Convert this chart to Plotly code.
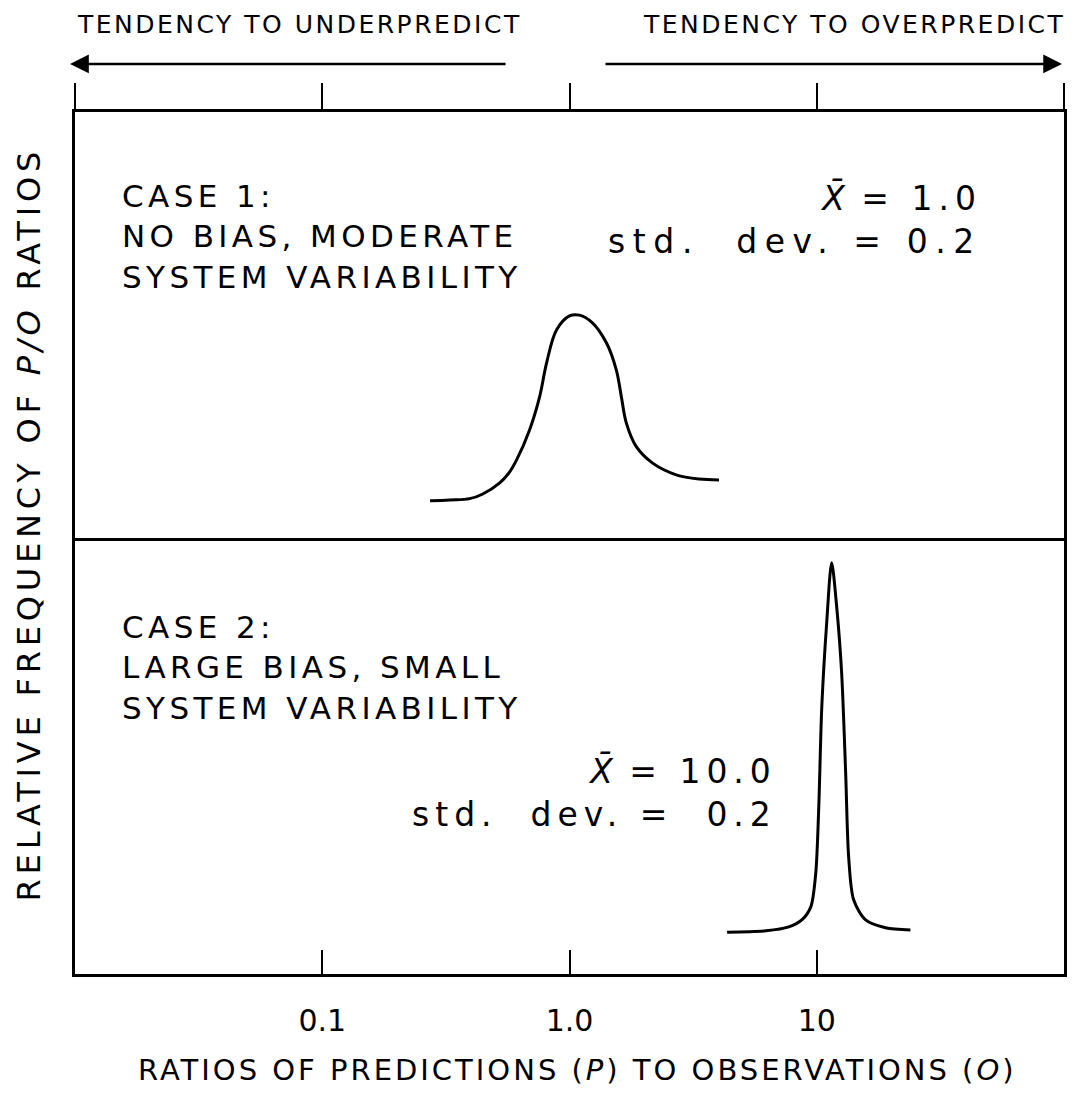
import plotly.graph_objects as go

# Case 1: no bias, moderate system variability
case1_ratio = [0.273, 0.328, 0.395, 0.446, 0.522, 0.573, 0.611, 0.690, 0.757, 0.808, 0.886, 1.0,
               1.097, 1.238, 1.410, 1.547, 1.621, 1.697, 1.863, 2.162, 2.701, 3.344, 4.025]
case1_freq = [0.087, 0.089, 0.092, 0.103, 0.129, 0.155, 0.183, 0.254, 0.331, 0.411, 0.488, 0.521,
              0.523, 0.505, 0.458, 0.394, 0.331, 0.270, 0.214, 0.176, 0.148, 0.138, 0.136]

# Case 2: large bias, small system variability
case2_ratio = [4.34, 6.23, 7.71, 8.70, 9.46, 9.91, 10.19, 10.48, 10.97, 11.49,
               12.04, 12.61, 13.09, 13.46, 14.10, 15.76, 18.97, 23.93]
case2_freq = [0.096, 0.099, 0.108, 0.124, 0.154, 0.232, 0.383, 0.612, 0.805, 0.943,
              0.842, 0.690, 0.461, 0.268, 0.170, 0.124, 0.106, 0.101]

tick_vals = [0.1, 1, 10]
tick_text = ["0.1", "1.0", "10"]
top_tick_vals = [0.01, 0.1, 1, 10, 100]

FONT = "DejaVu Sans"
INK = "black"


def spaced(s, px):
    """Wrap text in a span with extra letter spacing (plotter-style lettering)."""
    return f'<span style="letter-spacing:{px}px">{s}</span>'


fig = go.Figure()
fig.add_trace(go.Scatter(x=case1_ratio, y=case1_freq, xaxis="x2", yaxis="y2",
                         mode="lines", line=dict(color=INK, width=3, shape="spline", smoothing=1.0),
                         hoverinfo="skip"))
fig.add_trace(go.Scatter(x=case2_ratio, y=case2_freq, xaxis="x", yaxis="y",
                         mode="lines", line=dict(color=INK, width=3, shape="spline", smoothing=0.8),
                         hoverinfo="skip"))

axis_common = dict(type="log", range=[-2, 2], showgrid=False, zeroline=False,
                   showline=True, linecolor=INK, linewidth=2.5,
                   tickcolor=INK, tickwidth=2)
yaxis_common = dict(range=[0, 1], showgrid=False, zeroline=False, showline=True,
                    linecolor=INK, linewidth=2.5, mirror=True, showticklabels=False, ticks="")

ann = []


def text(s, x, y, size, xanchor="left", align="left", angle=0):
    ann.append(dict(text=s, x=x, y=y, xref="paper", yref="paper", showarrow=False,
                    xanchor=xanchor, yanchor="middle", align=align, textangle=angle,
                    font=dict(family=FONT, size=size, color=INK)))


text(spaced("TENDENCY TO UNDERPREDICT", 2.5), 0.0, 1.101, 25)
text(spaced("TENDENCY TO OVERPREDICT", 2.5), 1.003, 1.101, 25, xanchor="right", align="right")

case1_lines = ["CASE 1:", "NO BIAS, MODERATE", "SYSTEM VARIABILITY"]
case2_lines = ["CASE 2:", "LARGE BIAS, SMALL", "SYSTEM VARIABILITY"]
text("<br>".join(spaced(l, 4.4) for l in case1_lines), 0.046, 0.855, 31)
text("<br>".join(spaced(l, 4.4) for l in case2_lines), 0.046, 0.355, 31)

stats1 = ("<i>X\u0304</i>" + spaced(" = 1.0", 6) + "<br>"
          + spaced("std.\u00a0 dev. = 0.2", 7.6))
stats2 = ("<i>X\u0304</i>" + spaced(" = 10.0", 6) + "<br>"
          + spaced("std.\u00a0 dev. =\u00a0 0.2", 6))
text(stats1, 0.919, 0.875, 33, xanchor="right", align="right")
text(stats2, 0.712, 0.21, 33, xanchor="right", align="right")

text(spaced("RELATIVE FREQUENCY OF <i>P/O</i> RATIOS", 4.8), -0.047, 0.521, 32,
     xanchor="center", align="center", angle=-90)
text(spaced("RATIOS OF PREDICTIONS (<i>P</i>) TO OBSERVATIONS (<i>O</i>)", 3), 0.508, -0.1114, 29,
     xanchor="center", align="center")

# direction arrows above the frame
ann.append(dict(text="", x=-0.005, y=1.0557, xref="paper", yref="paper",
                ax=437, ay=0, axref="pixel", ayref="pixel", showarrow=True,
                arrowhead=2, arrowsize=1.5, arrowwidth=2.5, arrowcolor=INK))
ann.append(dict(text="", x=0.998, y=1.0557, xref="paper", yref="paper",
                ax=-458, ay=0, axref="pixel", ayref="pixel", showarrow=True,
                arrowhead=2, arrowsize=1.5, arrowwidth=2.5, arrowcolor=INK))

fig.update_layout(
    width=1072, height=1100,
    margin=dict(l=75, r=5, t=112, b=126),
    paper_bgcolor="white", plot_bgcolor="white",
    showlegend=False,
    xaxis=dict(axis_common, domain=[0, 1], anchor="y", mirror=False,
               ticks="inside", ticklen=24,
               tickvals=tick_vals, ticktext=tick_text, ticklabelstandoff=18,
               tickfont=dict(family=FONT, size=30, color=INK)),
    xaxis2=dict(axis_common, domain=[0, 1], anchor="y2", side="top", mirror=True,
                ticks="outside", ticklen=26, tickvals=top_tick_vals, showticklabels=False),
    yaxis=dict(yaxis_common, domain=[0, 0.506], anchor="x"),
    yaxis2=dict(yaxis_common, domain=[0.506, 1], anchor="x2"),
    annotations=ann,
)

fig.write_html("out.html")
